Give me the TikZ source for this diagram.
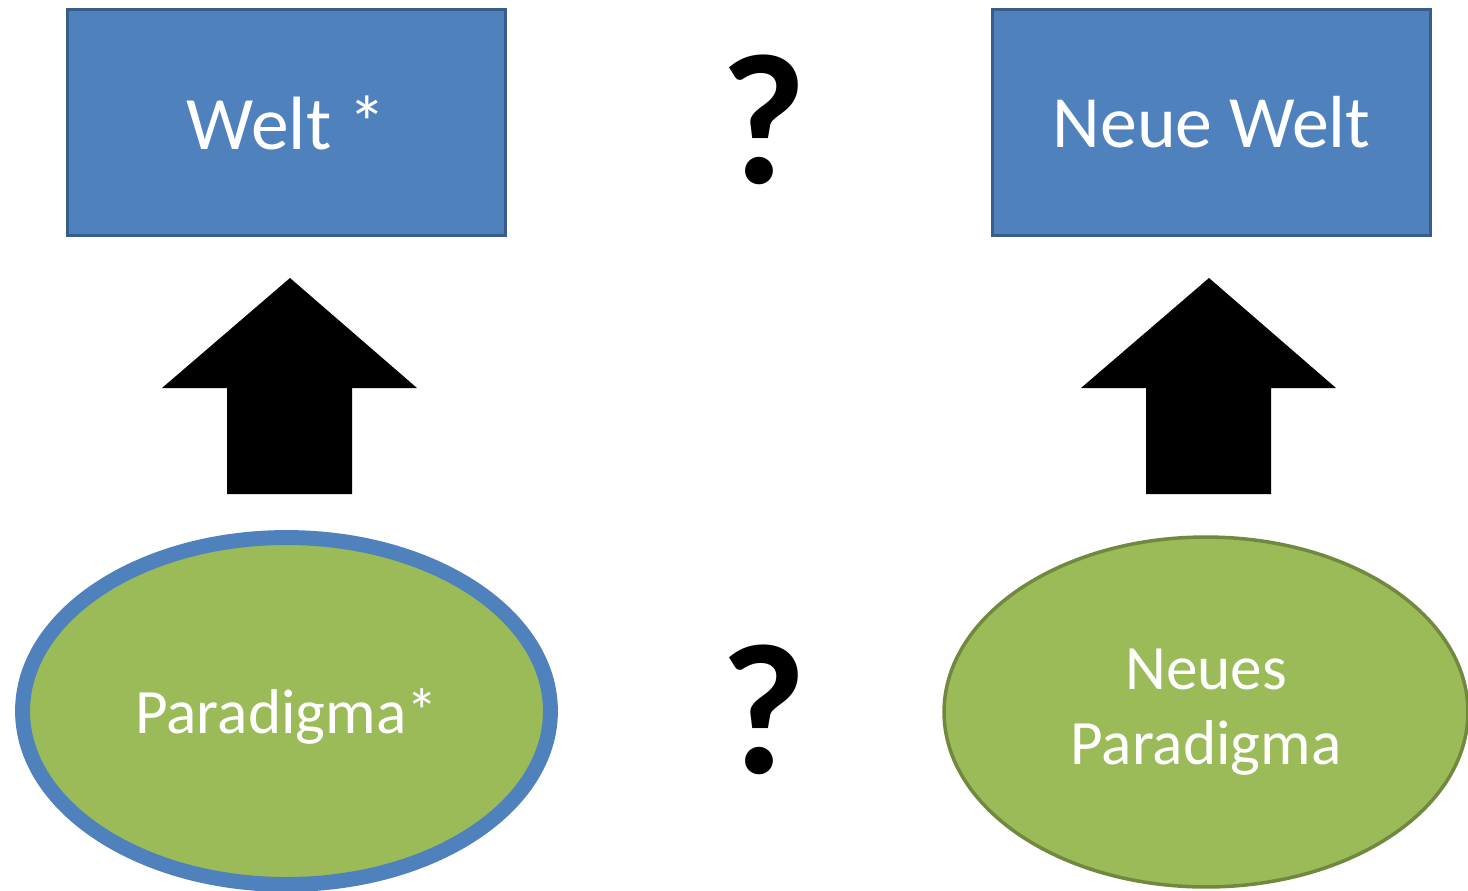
\documentclass[tikz,border=0pt]{standalone}
\usepackage{fontspec}
\setmainfont{Carlito}
\usetikzlibrary{shapes.geometric}
\definecolor{boxblue}{HTML}{4F81BD}
\definecolor{boxline}{HTML}{385D8A}
\definecolor{ovgreen}{HTML}{9BBB59}
\definecolor{ovline}{HTML}{71893F}
\tikzset{
  welt/.style={draw=boxline,line width=2pt,fill=boxblue,text=white,minimum width=8.76cm,minimum height=4.52cm,inner sep=0pt,font=\fontsize{43}{50}\selectfont},
  para/.style={ellipse,fill=ovgreen,text=white,inner sep=0pt,align=center,font=\fontsize{36}{43}\selectfont},
  frage/.style={font=\fontsize{106}{110}\selectfont\bfseries},
  pfeil/.style={fill=black}
}
\begin{document}
\begin{tikzpicture}[x=0.02cm,y=-0.02cm]
\useasboundingbox (0,0) rectangle (1468,890);
\node[welt] (w1) at (286.5,122.5) {Welt *};
\node[welt,font=\fontsize{42}{50}\selectfont] (w2) at (1211.5,122.5) {Neue Welt};
\node[para,draw=boxblue,line width=8.5pt,minimum width=10.56cm,minimum height=6.94cm,text depth=0pt] (p1) at (286.5,711) {Paradigma*};
\node[para,draw=ovline,line width=2pt,minimum width=10.48cm,minimum height=7cm] (p2) at (1206,712) {Neues\\Paradigma};
\node[frage] (q1) at (764,120) {?};
\node[frage] (q2) at (764,710) {?};
% Pfeile
\fill[pfeil] (290,278) -- (417,388) -- (352,388) -- (352,494) -- (227,494) -- (227,388) -- (162,388) -- cycle;
\fill[pfeil] (1209,278) -- (1336,388) -- (1271,388) -- (1271,494) -- (1146,494) -- (1146,388) -- (1081,388) -- cycle;
\end{tikzpicture}
\end{document}
